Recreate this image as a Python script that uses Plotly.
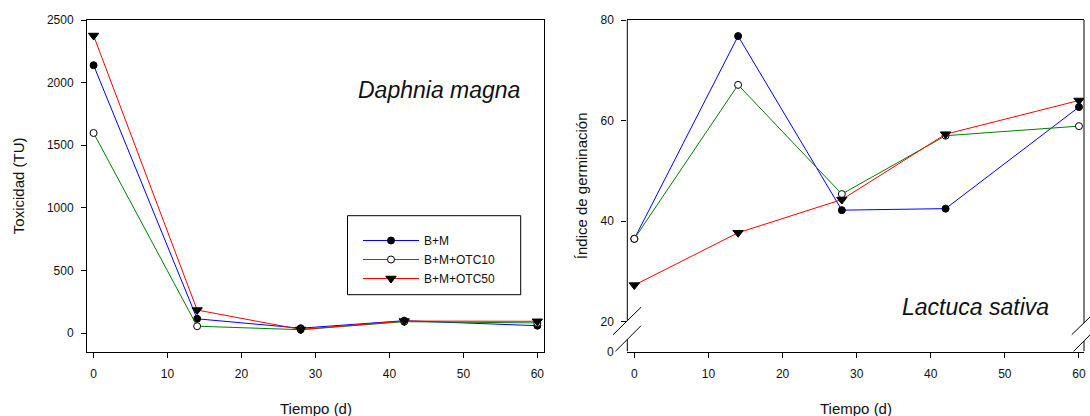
import plotly.graph_objects as go

W, H = 1090, 416

# ---- data ----
days = [0, 14, 28, 42, 60]
series_names = ["B+M", "B+M+OTC10", "B+M+OTC50"]

daphnia_bm = [2139, 115, 40, 100, 60]
daphnia_otc10 = [1598, 56, 28, 92, 82]
daphnia_otc50 = [2376, 185, 30, 97, 95]

lactuca_bm = [36.5, 76.8, 42.2, 42.5, 62.7]
lactuca_otc10 = [36.5, 67.1, 45.4, 57.0, 58.9]
lactuca_otc50 = [27.3, 37.7, 44.3, 57.3, 64.0]

x_ticks = [0, 10, 20, 30, 40, 50, 60]
left_y_ticks = [0, 500, 1000, 1500, 2000, 2500]
right_y_ticks = [20, 40, 60, 80]

# ---- styles ----
colors = ["#0000ff", "#008000", "#ff0000"]
markers = [
    dict(symbol="circle", size=7, color="black", line=dict(color="black", width=1)),
    dict(symbol="circle", size=7, color="white", line=dict(color="black", width=1)),
    dict(symbol="triangle-down", size=9, color="black", line=dict(color="black", width=1)),
]
FONT = "Liberation Sans, Arial, sans-serif"
TXT = "#111111"


def px_x(p):
    return p / W


def px_y(p):
    return 1 - p / H


fig = go.Figure()

for i, ys in enumerate([daphnia_bm, daphnia_otc10, daphnia_otc50]):
    fig.add_trace(go.Scatter(
        x=days, y=ys, mode="lines+markers", name=series_names[i],
        line=dict(color=colors[i], width=1), marker=markers[i],
        xaxis="x", yaxis="y", showlegend=True))

for i, ys in enumerate([lactuca_bm, lactuca_otc10, lactuca_otc50]):
    fig.add_trace(go.Scatter(
        x=days, y=ys, mode="lines+markers", name=series_names[i],
        line=dict(color=colors[i], width=1), marker=markers[i],
        xaxis="x2", yaxis="y2", showlegend=False))

ydom = [px_y(351.5), px_y(20)]
axis_common = dict(
    showgrid=False, zeroline=False, ticks="outside", ticklen=5,
    tickcolor="black", tickwidth=1, linecolor="black", linewidth=1,
    tickfont=dict(family=FONT, size=12, color=TXT), automargin=False,
)

fig.update_layout(
    width=W, height=H,
    margin=dict(l=0, r=0, t=0, b=0),
    paper_bgcolor="white", plot_bgcolor="white",
    xaxis=dict(domain=[px_x(87), px_x(544)], range=[-0.89, 60.9],
               tickvals=x_ticks, showline=True, mirror=True,
               ticklabelstandoff=6, anchor="y", **axis_common),
    yaxis=dict(domain=ydom, range=[-146, 2500], tickvals=left_y_ticks,
               showline=True, mirror=True, ticklabelstandoff=5,
               anchor="x", **axis_common),
    xaxis2=dict(domain=[px_x(627.3), px_x(1084)], range=[-0.95, 60.68],
                tickvals=x_ticks, showline=True, mirror=True,
                ticklabelstandoff=6, anchor="y2", **axis_common),
    yaxis2=dict(domain=ydom, range=[14.1, 80], tickvals=right_y_ticks,
                showline=False, ticklabelstandoff=5, anchor="x2",
                **axis_common),
    showlegend=True,
    legend=dict(x=px_x(358), y=px_y(226), xanchor="left", yanchor="top",
                bgcolor="rgba(0,0,0,0)", borderwidth=0, itemwidth=56,
                font=dict(family=FONT, size=12, color=TXT)),
)

shapes = []
# legend frame
shapes.append(dict(type="rect", xref="paper", yref="paper",
                   x0=px_x(347.5), x1=px_x(520.7), y0=px_y(294.7), y1=px_y(215.7),
                   line=dict(color="black", width=1), fillcolor="rgba(0,0,0,0)",
                   layer="above"))

# right plot vertical frame lines with breaks
line_k = dict(color="black", width=1)
shapes += [
    dict(type="line", xref="x2 domain", yref="y2", x0=0, x1=0, y0=20.2, y1=80, line=line_k),
    dict(type="line", xref="x2 domain", yref="y2", x0=0, x1=0, y0=14.1, y1=16.5, line=line_k),
    dict(type="line", xref="x2 domain", yref="y2", x0=1, x1=1, y0=19.8, y1=80, line=line_k),
    dict(type="line", xref="x2 domain", yref="y2", x0=1, x1=1, y0=14.1, y1=16.2, line=line_k),
]
# break diagonals (pixel-sized, anchored on the axis lines)
for xa, ya, (dx0, dy0, dx1, dy1) in [
    (0, 20.2, (-14.3, -14, 13.7, 13.5)),
    (0, 16.5, (-12.3, -12.3, 13.7, 13.7)),
    (1, 19.8, (-12.3, -11.9, 6, 5.8)),
    (1, 16.2, (-10.7, -10.7, 6, 6)),
]:
    shapes.append(dict(type="line", xref="x2 domain", yref="y2",
                       xsizemode="pixel", ysizemode="pixel",
                       xanchor=xa, yanchor=ya,
                       x0=dx0, y0=dy0, x1=dx1, y1=dy1, line=line_k))
fig.update_layout(shapes=shapes)

ann = []
ann.append(dict(text="Daphnia magna", x=px_x(439), y=px_y(90), xref="paper", yref="paper",
                xanchor="center", yanchor="middle", showarrow=False,
                font=dict(family=FONT, size=23, color=TXT, style="italic")))
ann.append(dict(text="Lactuca sativa", x=px_x(975.5), y=px_y(306.7), xref="paper", yref="paper",
                xanchor="center", yanchor="middle", showarrow=False,
                font=dict(family=FONT, size=23, color=TXT, style="italic")))
# axis titles
ann.append(dict(text="Toxicidad (TU)", x=px_x(18.5), y=px_y(185.7), xref="paper", yref="paper",
                xanchor="center", yanchor="middle", textangle=-90, showarrow=False,
                font=dict(family=FONT, size=15, color=TXT)))
ann.append(dict(text="Tiempo (d)", x=px_x(315.5), y=px_y(408), xref="paper", yref="paper",
                xanchor="center", yanchor="middle", showarrow=False,
                font=dict(family=FONT, size=15, color=TXT)))
ann.append(dict(text="Índice de germinación", x=px_x(581.5), y=px_y(185.7), xref="paper", yref="paper",
                xanchor="center", yanchor="middle", textangle=-90, showarrow=False,
                font=dict(family=FONT, size=15, color=TXT)))
ann.append(dict(text="Tiempo (d)", x=px_x(855.7), y=px_y(408), xref="paper", yref="paper",
                xanchor="center", yanchor="middle", showarrow=False,
                font=dict(family=FONT, size=15, color=TXT)))
# "0" label at the bottom of the broken right axis
ann.append(dict(text="0", x=0, y=14.1, xref="x2 domain", yref="y2",
                xanchor="right", yanchor="middle", xshift=-11, showarrow=False,
                font=dict(family=FONT, size=12, color=TXT)))
fig.update_layout(annotations=ann)

fig.write_html("out.html")
